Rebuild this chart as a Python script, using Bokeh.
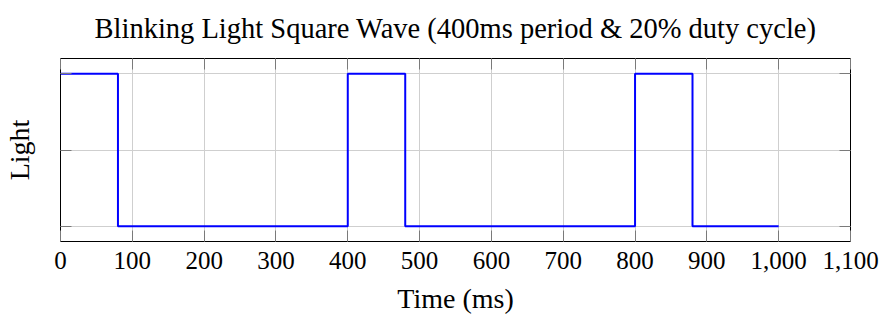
from bokeh.plotting import figure
from bokeh.models import LinearAxis, FixedTicker, NumeralTickFormatter, Range1d
from bokeh.embed import file_html
from bokeh.resources import INLINE

# Data: square wave transitions
edge_times = [0, 80, 400, 480, 800, 880, 1000]
light_state = [1, 0, 1, 0, 1, 0, 0]

x_ticks = [0, 100, 200, 300, 400, 500, 600, 700, 800, 900, 1000, 1100]
y_ticks = [0, 0.5, 1]

title_text = "Blinking Light Square Wave (400ms period & 20% duty cycle)"
x_label = "Time (ms)"
y_label = "Light"

FONT = "Liberation Serif"

p = figure(width=884, height=321,
           x_range=Range1d(0, 1100), y_range=Range1d(-0.1, 1.1),
           output_backend="svg", toolbar_location=None,
           x_axis_location=None, y_axis_location=None,
           min_border_left=58, min_border_right=34,
           min_border_top=58, min_border_bottom=80)

p.title.text = title_text
p.title.text_font = FONT
p.title.text_font_size = "28.5px"
p.title.text_font_style = "normal"
p.title.align = "center"
p.title.vertical_align = "top"
p.title.text_color = "black"
p.title.standoff = 25

p.outline_line_color = "black"
p.outline_line_width = 1
p.outline_line_alpha = 1
p.background_fill_color = "white"
p.border_fill_color = "white"


def style_axis(ax, labels=True):
    ax.axis_line_color = None
    ax.major_tick_in = 11
    ax.major_tick_out = 0
    ax.minor_tick_in = 0
    ax.minor_tick_out = 0
    ax.major_tick_line_color = "#7a7a7a"
    ax.major_tick_line_width = 1
    if not labels:
        ax.major_label_text_color = None
        ax.major_label_text_font_size = "1px"
        ax.major_label_standoff = 0


xb = LinearAxis(ticker=FixedTicker(ticks=x_ticks, minor_ticks=[]),
                formatter=NumeralTickFormatter(format="0,0"),
                axis_label=x_label)
style_axis(xb)
xb.major_label_text_font = FONT
xb.major_label_text_font_size = "25px"
xb.major_label_text_color = "black"
xb.major_label_standoff = 10
xb.axis_label_text_font = FONT
xb.axis_label_text_font_size = "28px"
xb.axis_label_text_font_style = "normal"
xb.axis_label_text_color = "black"
xb.axis_label_standoff = 11
p.add_layout(xb, "below")

xt = LinearAxis(ticker=FixedTicker(ticks=x_ticks, minor_ticks=[]))
style_axis(xt, labels=False)
p.add_layout(xt, "above")

yl = LinearAxis(ticker=FixedTicker(ticks=y_ticks, minor_ticks=[]),
                axis_label=y_label)
style_axis(yl, labels=False)
yl.axis_label_text_font = FONT
yl.axis_label_text_font_size = "28px"
yl.axis_label_text_font_style = "normal"
yl.axis_label_text_color = "black"
yl.axis_label_standoff = 26
p.add_layout(yl, "left")

yr = LinearAxis(ticker=FixedTicker(ticks=y_ticks, minor_ticks=[]))
style_axis(yr, labels=False)
p.add_layout(yr, "right")

p.xgrid.ticker = FixedTicker(ticks=x_ticks, minor_ticks=[])
p.ygrid.ticker = FixedTicker(ticks=y_ticks, minor_ticks=[])
for g in (p.xgrid, p.ygrid):
    g.grid_line_color = "#cfcfcf"
    g.grid_line_width = 1

p.step(edge_times, light_state, mode="after", line_color="#0000ff", line_width=2)

open("out.html", "w").write(file_html(p, INLINE))
